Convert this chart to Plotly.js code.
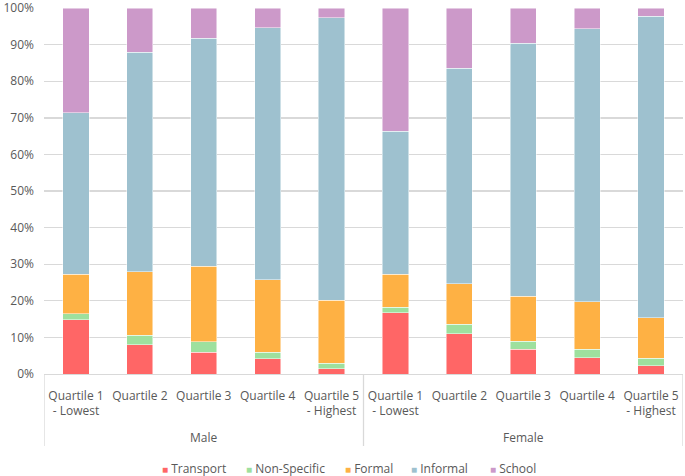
<!DOCTYPE html>
<html><head><meta charset="utf-8">
<script src="https://cdn.plot.ly/plotly-3.0.1.min.js"></script>
<style>body{margin:0;background:#fff}#chart{width:685px;height:476px}</style>
</head><body><div id="chart"></div>
<script>
const groupNames = ["Male", "Female"];
const quartiles = ["Quartile 1<br>- Lowest","Quartile 2","Quartile 3","Quartile 4","Quartile 5<br>- Highest",
                   "Quartile 1<br>- Lowest","Quartile 2","Quartile 3","Quartile 4","Quartile 5<br>- Highest"];
const yTicks = [0, 10, 20, 30, 40, 50, 60, 70, 80, 90, 100];
const transport   = [14.8, 8.0, 5.9, 4.2, 1.5, 16.8, 11.0, 6.7, 4.4, 2.2];
const nonSpecific = [1.6, 2.6, 2.9, 1.8, 1.5, 1.4, 2.6, 2.3, 2.4, 2.1];
const formal      = [10.8, 17.3, 20.7, 19.8, 17.2, 9.1, 11.0, 12.2, 12.9, 11.1];
const informal    = [44.2, 60.0, 62.2, 68.8, 77.2, 39.0, 58.9, 69.2, 74.7, 82.3];
const school      = [28.6, 12.1, 8.3, 5.4, 2.6, 33.7, 16.5, 9.6, 5.6, 2.3];
const seriesNames = ["Transport","Non-Specific","Formal","Informal","School"];
const seriesColors = ["#FF6666","#9EE09E","#FEB144","#9EC1CF","#CC99C9"];
const seriesValues = [transport, nonSpecific, formal, informal, school];

const xIdx = quartiles.map((_, i) => i);
const traces = seriesNames.map((n, k) => ({
  type:"bar", name:n, x:xIdx, y:seriesValues[k],
  marker:{color:seriesColors[k], line:{color:"rgba(255,255,255,0.6)", width:0.8}},
  hoverinfo:"skip", showlegend:false
}));

const H = 476, mt = 8, mb = 102, ml = 44, mr = 2, W = 685;
const ph = H - mt - mb, pw = W - ml - mr;
const py = px => (H - mb - px) / ph;
const pxX = px => (px - ml) / pw;

const nPer = quartiles.length / groupNames.length;
const annotations = groupNames.map((g, i) => ({
  text:g, x:(i * nPer) + (nPer - 1) / 2, xref:"x", y:py(437.5), yref:"paper",
  showarrow:false, yanchor:"middle", xanchor:"center",
  font:{size:12, color:"#595959"}
}));
const shapes = [];
for (let i = 0; i <= groupNames.length; i++) {
  shapes.push({type:"line", xref:"x", yref:"paper", x0:i*nPer - 0.5, x1:i*nPer - 0.5,
               y0:0, y1:py(446), line:{color:"#D9D9D9", width:1.3}});
}
const legendX = [160, 244, 343, 409, 488];
seriesNames.forEach((n, k) => {
  annotations.push({
    text:'<span style="color:' + seriesColors[k] + ';font-size:10px">■</span> ' + n,
    x:pxX(legendX[k]), xref:"paper", xanchor:"left", y:py(468), yref:"paper", yanchor:"middle",
    showarrow:false, font:{size:12, color:"#595959"}
  });
});

const layout = {
  width:W, height:H,
  margin:{l:ml, r:mr, t:mt, b:mb},
  barmode:"stack", bargap:0.59,
  paper_bgcolor:"#fff", plot_bgcolor:"#fff",
  font:{family:"Open Sans, sans-serif", size:12, color:"#595959"},
  yaxis:{range:[0,100.02], tickmode:"array", tickvals:yTicks, ticktext:yTicks.map(v => v + "%"),
         gridcolor:"#D9D9D9", gridwidth:1.3, ticklabeloverflow:"allow",
         zeroline:false, ticks:"", ticklabelstandoff:9, tickfont:{size:12, color:"#595959"}, fixedrange:true},
  xaxis:{range:[-0.5, quartiles.length - 0.5], tickvals:xIdx, ticktext:quartiles,
         showline:true, linecolor:"#D9D9D9", linewidth:1.3, zeroline:false, showgrid:false,
         ticks:"", ticklabelstandoff:10, tickangle:0, tickfont:{size:12, color:"#595959"}},
  showlegend:false,
  annotations, shapes
};
Plotly.newPlot("chart", traces, layout, {displayModeBar:false, staticPlot:true});
</script></body></html>
